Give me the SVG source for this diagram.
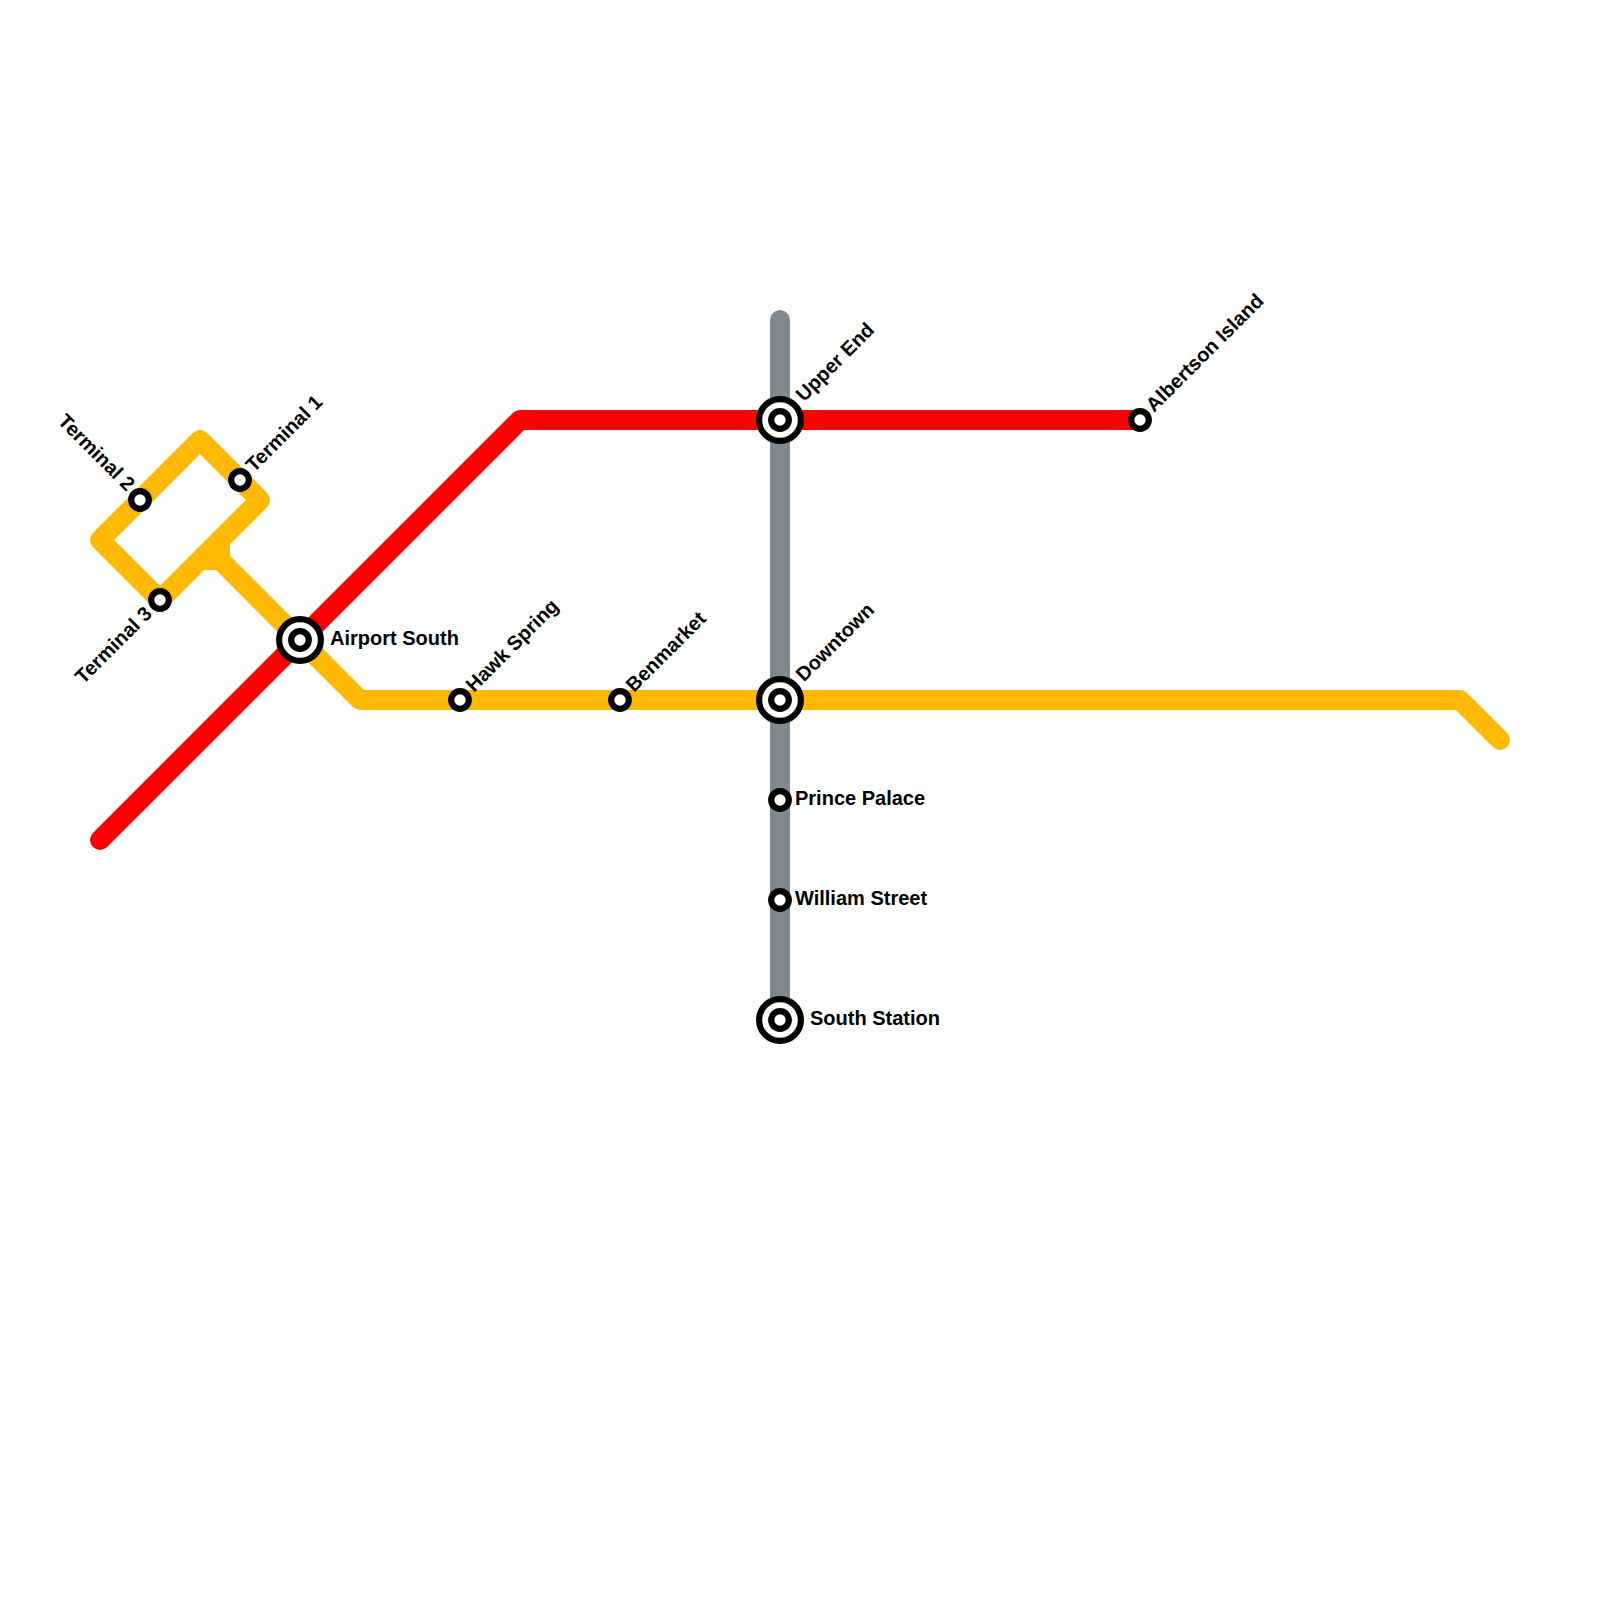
<svg xmlns="http://www.w3.org/2000/svg" width="1600" height="1600" viewBox="0 0 1600 1600">
<style>
.l{fill:none;stroke-width:20;stroke-linecap:round;stroke-linejoin:round}
.y{stroke:#ffb900}.r{stroke:#ff0000}.g{stroke:#7f8a90}
.o{fill:#fff;stroke:#000;stroke-width:6.2}
.b{fill:#fff;stroke:#000;stroke-width:6.2}
.t{font-family:"Liberation Sans",Arial,sans-serif;font-weight:700;font-size:20px;fill:#000}
</style>
<rect width="1600" height="1600" fill="#fff"/>
<g id="connectors">
<path id="line-gray" class="l g" d="M780 320V1020"/>
<path id="line-yellow" class="l y" d="M1500 740L1460 700H360L220 560"/>
<path id="line-yellow-loop" class="l y" d="M160 600L260 500L200 440L100 540Z"/>
<path id="line-yellow-join" d="M204 570H216L230 556V544L220 540L190 560Z" fill="#ffb900"/>
<path id="line-red" class="l r" d="M100 840L520 420H1140"/>
</g>
<g id="terminal-1"><circle class="o" cx="240" cy="480" r="8.8"/><text class="t" transform="translate(254 473) rotate(-45)">Terminal 1</text></g>
<g id="terminal-2"><circle class="o" cx="140" cy="500" r="8.8"/><text class="t" text-anchor="end" transform="translate(126.500 492) rotate(45)">Terminal 2</text></g>
<g id="terminal-3"><circle class="o" cx="160" cy="600" r="8.8"/><text class="t" text-anchor="end" transform="translate(153 615) rotate(-45)">Terminal 3</text></g>
<g id="airport-south"><circle class="b" cx="300" cy="640" r="20.9"/><circle class="o" cx="300" cy="640" r="8.8"/><text class="t" x="330" y="645">Airport South</text></g>
<g id="hawk-spring"><circle class="o" cx="460" cy="700" r="8.8"/><text class="t" transform="translate(474 693) rotate(-45)">Hawk Spring</text></g>
<g id="benmarket"><circle class="o" cx="620" cy="700" r="8.8"/><text class="t" transform="translate(634 693) rotate(-45)">Benmarket</text></g>
<g id="downtown"><circle class="b" cx="780" cy="700" r="20.9"/><circle class="o" cx="780" cy="700" r="8.8"/><text class="t" transform="translate(804 682.500) rotate(-45)">Downtown</text></g>
<g id="upper-end"><circle class="b" cx="780" cy="420" r="20.9"/><circle class="o" cx="780" cy="420" r="8.8"/><text class="t" transform="translate(804 402.500) rotate(-45)">Upper End</text></g>
<g id="albertson-island"><circle class="o" cx="1140" cy="420" r="8.8"/><text class="t" transform="translate(1154 413) rotate(-45)">Albertson Island</text></g>
<g id="prince-palace"><circle class="o" cx="780" cy="800" r="8.8"/><text class="t" x="795" y="805">Prince Palace</text></g>
<g id="william-street"><circle class="o" cx="780" cy="900" r="8.8"/><text class="t" x="795" y="905">William Street</text></g>
<g id="south-station"><circle class="b" cx="780" cy="1020" r="20.9"/><circle class="o" cx="780" cy="1020" r="8.8"/><text class="t" x="810" y="1025">South Station</text></g>
</svg>
